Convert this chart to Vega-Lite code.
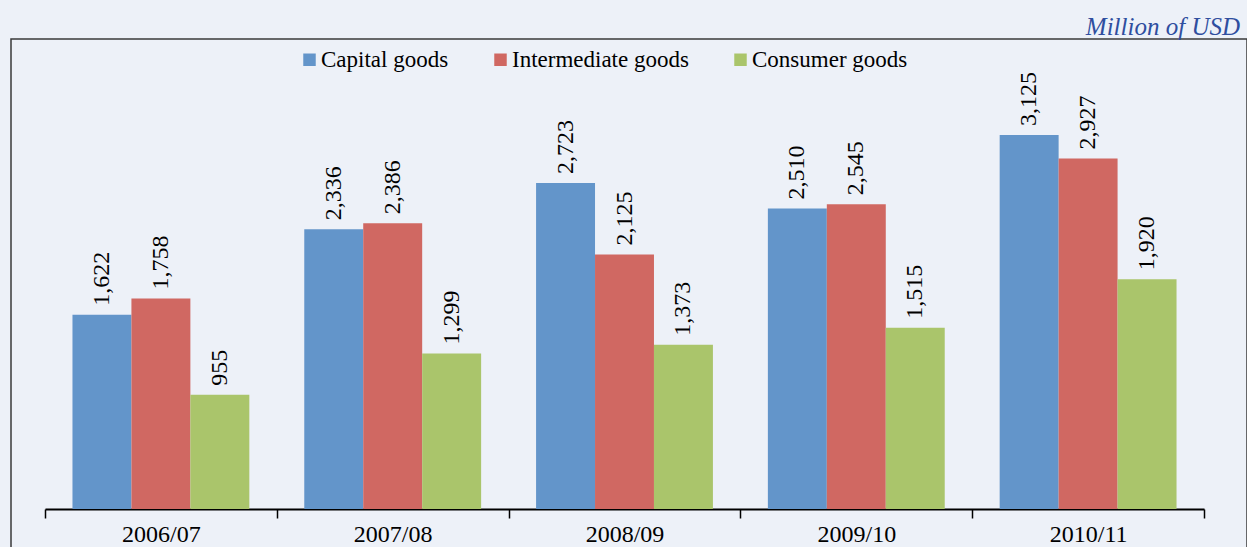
{
  "$schema": "https://vega.github.io/schema/vega-lite/v6.json",
  "autosize": {"type": "none"},
  "padding": {"left": 11, "top": 39, "right": 0, "bottom": 0},
  "width": 1236,
  "height": 520,
  "background": "#EDF1F8",
  "title": {
    "text": "Million of USD",
    "anchor": "end",
    "frame": "group",
    "orient": "top",
    "font": "Liberation Serif",
    "fontStyle": "italic",
    "fontWeight": "normal",
    "fontSize": 25,
    "color": "#2F4E9F",
    "baseline": "alphabetic",
    "offset": 8,
    "dy": 29,
    "dx": -7
  },
  "data": {
    "values": [
      {"year": "2006/07", "cat": "Capital goods", "value": 1622},
      {"year": "2006/07", "cat": "Intermediate goods", "value": 1758},
      {"year": "2006/07", "cat": "Consumer goods", "value": 955},
      {"year": "2007/08", "cat": "Capital goods", "value": 2336},
      {"year": "2007/08", "cat": "Intermediate goods", "value": 2386},
      {"year": "2007/08", "cat": "Consumer goods", "value": 1299},
      {"year": "2008/09", "cat": "Capital goods", "value": 2723},
      {"year": "2008/09", "cat": "Intermediate goods", "value": 2125},
      {"year": "2008/09", "cat": "Consumer goods", "value": 1373},
      {"year": "2009/10", "cat": "Capital goods", "value": 2510},
      {"year": "2009/10", "cat": "Intermediate goods", "value": 2545},
      {"year": "2009/10", "cat": "Consumer goods", "value": 1515},
      {"year": "2010/11", "cat": "Capital goods", "value": 3125},
      {"year": "2010/11", "cat": "Intermediate goods", "value": 2927},
      {"year": "2010/11", "cat": "Consumer goods", "value": 1920}
    ]
  },
  "encoding": {
    "x": {
      "field": "year",
      "type": "nominal",
      "sort": null,
      "title": null,
      "scale": {"range": [34, 1193], "paddingInner": 0, "paddingOuter": 0},
      "axis": {
        "orient": "bottom",
        "offset": -50,
        "labelAngle": 0,
        "labelFont": "Liberation Serif",
        "labelFontSize": 24,
        "labelColor": "#000000",
        "labelPadding": 4,
        "tickBand": "extent",
        "tickSize": 9,
        "tickColor": "#000000",
        "tickWidth": 1.5,
        "domainColor": "#000000",
        "domainWidth": 2,
        "grid": false
      }
    },
    "xOffset": {
      "field": "cat",
      "type": "nominal",
      "sort": ["Capital goods", "Intermediate goods", "Consumer goods"],
      "scale": {"paddingInner": 0, "paddingOuter": 0.466}
    },
    "y": {
      "field": "value",
      "type": "quantitative",
      "scale": {"domain": [0, 3926], "range": [470, 0], "nice": false},
      "axis": null
    }
  },
  "layer": [
    {
      "mark": {"type": "bar", "stroke": null},
      "encoding": {
        "color": {
          "field": "cat",
          "type": "nominal",
          "sort": ["Capital goods", "Intermediate goods", "Consumer goods"],
          "scale": {
            "domain": ["Capital goods", "Intermediate goods", "Consumer goods"],
            "range": ["#6395CA", "#D06862", "#AAC56B"]
          },
          "legend": {
            "title": null,
            "orient": "none",
            "direction": "horizontal",
            "legendX": 287,
            "legendY": 9,
            "symbolType": "square",
            "symbolSize": 156,
            "symbolStrokeWidth": 0,
            "symbolOpacity": 1,
            "labelFont": "Liberation Serif",
            "labelFontSize": 23,
            "labelColor": "#000000",
            "labelOffset": 0,
            "columnPadding": 40,
            "labelLimit": 400
          }
        }
      }
    },
    {
      "mark": {
        "type": "text",
        "angle": 270,
        "align": "left",
        "baseline": "middle",
        "dx": 9,
        "font": "Liberation Serif",
        "fontSize": 24,
        "color": "#000000"
      },
      "encoding": {
        "text": {"field": "value", "type": "quantitative", "format": ","}
      }
    }
  ],
  "config": {
    "view": {"stroke": "#3a3a3a", "strokeWidth": 1.5}
  }
}
